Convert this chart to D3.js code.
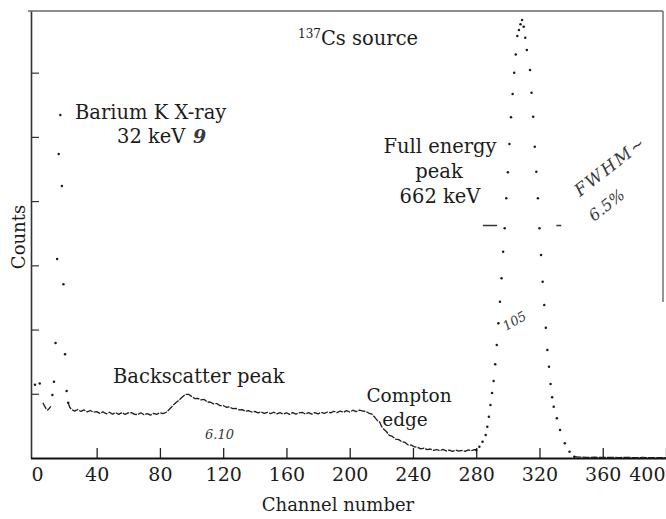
<!DOCTYPE html>
<html>
<head>
<meta charset="utf-8">
<script src="https://cdn.jsdelivr.net/npm/d3@7"></script>
<style>
  body { margin: 0; background: #fff; }
  svg { display: block; }
  text { font-family: "DejaVu Serif", serif; fill: #1c1c1c; }
  .hand { font-family: "DejaVu Serif", serif; font-style: italic; fill: #3a3a3a; }
</style>
</head>
<body>
<svg id="chart" width="666" height="519"></svg>
<script>
// 137Cs gamma-ray pulse-height spectrum: counts per channel.

const xTicks = [0, 40, 80, 120, 160, 200, 240, 280, 320, 360, 400];
const yTicks = [1000, 2000, 3000, 4000, 5000, 6000];

// [channel, counts] — isolated points at the low end and the barium K X-ray peak
const xrayPeak = [
  [1, 1140], [4, 1160],
  [12, 981], [13, 1188], [14, 1790], [15, 3099], [16, 4734], [17, 5341],
  [18, 4235], [19, 2705], [20, 1615], [21, 1043], [22, 861]
];

// short dip just above channel zero
const lowDip = [[6, 861], [7, 812], [8, 770], [9, 747], [10, 772], [11, 805]];

// Compton continuum with backscatter peak and Compton edge
const continuum = [
  [22, 861], [23, 790], [24, 758], [26, 730], [28, 755], [30, 725], [32, 748], [34, 718],
  [36, 740], [38, 712], [40, 722], [42, 695], [44, 718], [46, 688], [48, 712], [50, 684],
  [52, 706], [54, 680], [56, 708], [58, 678], [60, 702], [62, 706], [64, 680], [66, 676],
  [68, 704], [70, 674], [72, 690], [74, 668], [76, 694], [78, 680], [80, 706], [82, 692],
  [84, 712], [86, 760], [88, 812], [90, 860], [92, 900], [94, 945], [96, 990], [98, 992],
  [100, 960], [102, 925], [104, 928], [106, 905], [108, 912], [110, 872], [112, 868],
  [114, 842], [116, 848], [118, 815], [120, 818], [122, 790], [124, 796], [126, 768],
  [128, 772], [130, 748], [132, 752], [134, 728], [136, 738], [138, 716], [140, 726],
  [142, 704], [144, 716], [146, 696], [148, 712], [150, 690], [152, 712], [154, 686],
  [156, 706], [158, 682], [160, 704], [162, 680], [164, 706], [166, 684], [168, 702],
  [170, 712], [172, 684], [174, 706], [176, 682], [178, 708], [180, 688], [182, 710],
  [184, 696], [186, 716], [188, 702], [190, 728], [192, 706], [194, 732], [196, 710],
  [198, 738], [200, 716], [202, 744], [204, 722], [206, 745], [208, 732], [210, 728],
  [212, 700], [214, 684], [216, 630], [218, 570], [219, 560], [220, 500], [221, 462],
  [223, 418], [225, 352], [227, 336], [229, 294], [231, 286], [233, 252], [235, 242],
  [237, 204], [239, 200], [241, 172], [243, 166], [245, 142], [247, 154], [249, 130],
  [251, 140], [253, 118], [255, 132], [257, 112], [259, 134], [261, 110], [263, 124],
  [265, 104], [267, 122], [269, 106], [271, 118], [273, 104], [275, 126], [277, 114],
  [279, 132], [280, 125]
];

// 662 keV full-energy peak, one point per channel
const photopeak = [
  [280, 125], [282, 176], [284, 254], [286, 358], [287, 486], [288, 643], [289, 825],
  [290, 1012], [291, 1199], [292, 1460], [293, 1760], [294, 2097], [295, 2434],
  [296, 2798], [297, 3212], [298, 3577], [299, 4044], [300, 4449], [301, 4889],
  [302, 5305], [303, 5668], [304, 6000], [305, 6281], [306, 6571], [307, 6665],
  [308, 6753], [309, 6820], [310, 6716], [311, 6545], [312, 6353], [314, 6042],
  [315, 5688], [316, 5314], [317, 4847], [318, 4458], [319, 4044], [320, 3577],
  [321, 3161], [322, 2745], [323, 2382], [324, 2029], [325, 1682], [326, 1422],
  [327, 1152], [328, 945], [329, 799], [331, 618], [333, 436], [336, 229],
  [339, 98], [342, 20]
];

// flat tail above the photopeak
const tail = [
  [342, 20], [345, 14], [350, 10], [355, 12], [360, 8], [365, 10], [370, 7],
  [375, 9], [380, 6], [385, 8], [390, 6], [395, 7], [400, 5]
];

// width markers drawn on the photopeak
const fwhmLevel = 3620;
const fwhmMarks = [[284.3, 293.2], [330.7, 333.8]];

const svg = d3.select("#chart");

const x = d3.scaleLinear().domain([0, 400]).range([33.4, 666]);
const y = d3.scaleLinear().domain([0, 6960]).range([458, 11]);

// frame: top edge and partial right edge
svg.append("line")
  .attr("x1", 28).attr("x2", 663).attr("y1", y(6960)).attr("y2", y(6960))
  .attr("stroke", "#6a6a6a").attr("stroke-width", 1.6);
svg.append("line")
  .attr("x1", 663).attr("x2", 663).attr("y1", y(6960)).attr("y2", 302)
  .attr("stroke", "#7a7a7a").attr("stroke-width", 1.6);

// left axis: inward ticks, no labels
const yAxis = svg.append("g")
  .attr("transform", "translate(31,0)")
  .call(d3.axisLeft(y).tickValues(yTicks).tickSize(-8).tickSizeOuter(0).tickFormat(""));
yAxis.select(".domain").attr("stroke", "#333").attr("stroke-width", 1.6);
yAxis.selectAll(".tick line").attr("stroke", "#333").attr("stroke-width", 1.2);

// bottom axis: inward ticks, labels below
const xAxis = svg.append("g")
  .attr("transform", `translate(0,${y(0)})`)
  .call(d3.axisBottom(x).tickValues(xTicks).tickSize(-10).tickSizeOuter(0).tickPadding(10));
xAxis.select(".domain").attr("stroke", "#111").attr("stroke-width", 1.8)
  .attr("d", `M31,0.5H666`);
xAxis.selectAll(".tick line").attr("stroke", "#222").attr("stroke-width", 1.3);
xAxis.selectAll(".tick text")
  .style("font-family", '"DejaVu Serif", serif')
  .style("font-size", "19px")
  .attr("fill", "#1c1c1c")
  .each(function (d) {
    if (d === 0) d3.select(this).attr("text-anchor", "start").attr("x", -2.5);
    if (d === 400) d3.select(this).attr("text-anchor", "end").attr("x", -1);
  });
xAxis.select(".tick line").filter(d => d === 0).remove();

// axis titles
svg.append("text")
  .attr("x", 338).attr("y", 511)
  .attr("text-anchor", "middle")
  .style("font-size", "18px")
  .text("Channel number");
svg.append("text")
  .attr("transform", "translate(25,237) rotate(-90)")
  .attr("text-anchor", "middle")
  .style("font-size", "18px")
  .text("Counts");

// continuum lines
const line = d3.line().x(d => x(d[0])).y(d => y(d[1]));
const lineStyle = sel => sel
  .attr("fill", "none").attr("stroke", "#1e1e1e").attr("stroke-width", 1.3)
  .attr("stroke-dasharray", "7 1.2").attr("stroke-linejoin", "round");
svg.append("path").datum(continuum).attr("d", line).call(lineStyle);
svg.append("path").datum(lowDip).attr("d", line).call(lineStyle);
svg.append("path").datum(tail).attr("d", line).call(lineStyle);

// per-channel points
const dotData = xrayPeak.concat(photopeak);
svg.append("g").selectAll("circle")
  .data(dotData)
  .join("circle")
  .attr("cx", d => x(d[0]))
  .attr("cy", d => y(d[1]))
  .attr("r", 1.25)
  .attr("fill", "#1a1a1a");

// width markers at the photopeak
svg.append("g").selectAll("line")
  .data(fwhmMarks)
  .join("line")
  .attr("x1", d => x(d[0])).attr("x2", d => x(d[1]))
  .attr("y1", y(fwhmLevel)).attr("y2", y(fwhmLevel))
  .attr("stroke", "#333").attr("stroke-width", 1.5);

// peak labels
const label = (tx, ty, str, anchor = "middle", size = 19.5) =>
  svg.append("text").attr("x", tx).attr("y", ty).attr("text-anchor", anchor)
    .style("font-size", size + "px").text(str);

const title = svg.append("text").attr("x", 298).attr("y", 45).style("font-size", "19.5px");
title.append("tspan").style("font-size", "12px").attr("dy", "-7").text("137");
title.append("tspan").attr("dy", "7").text("Cs source");

label(75, 119, "Barium K X-ray", "start");
label(117, 143, "32 keV", "start");
label(440, 153, "Full energy");
label(439, 178, "peak");
label(440, 203, "662 keV");
label(113, 383, "Backscatter peak", "start");
label(409, 402, "Compton", "middle", 18.5);
label(405, 426, "edge", "middle", 18.5);

// pencil notes
svg.append("text").attr("class", "hand").attr("x", 193).attr("y", 143)
  .style("font-size", "19px").style("font-weight", "bold").text("9");
svg.append("text").attr("class", "hand")
  .attr("transform", "translate(580,197) rotate(-38)")
  .style("font-size", "17px").style("letter-spacing", "2px").text("FWHM~");
svg.append("text").attr("class", "hand")
  .attr("transform", "translate(594,222) rotate(-38)")
  .style("font-size", "16px").text("6.5%");
svg.append("text").attr("class", "hand")
  .attr("transform", "translate(506,331) rotate(-30)")
  .style("font-size", "13px").text("105");
svg.append("text").attr("class", "hand")
  .attr("x", 205).attr("y", 439)
  .style("font-size", "13px").text("6.10");
</script>
</body>
</html>
